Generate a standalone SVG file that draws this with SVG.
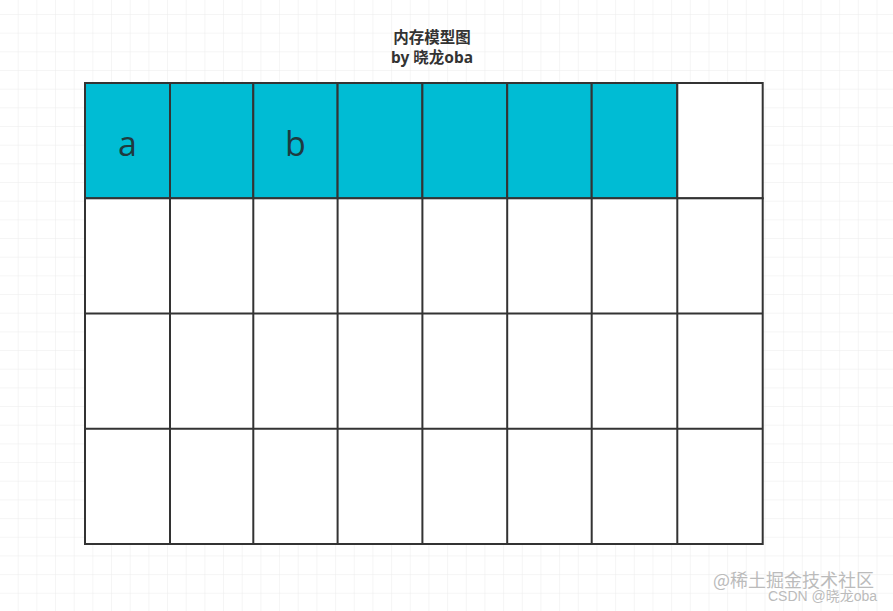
<svg xmlns="http://www.w3.org/2000/svg" width="893" height="611" viewBox="0 0 893 611">
<defs>
<pattern id="bg" x="0" y="-3.7" width="18.67" height="18.67" patternUnits="userSpaceOnUse">
<path d="M18.67 0V18.67M0 18.67H18.67" fill="none" stroke="#ebebeb" stroke-width="1"/>
</pattern>
</defs>
<style>
.c{stroke:#333;stroke-width:2;fill:#fff}
.f{fill:#00bcd4}
.t{font-family:"Open Sans","Noto Sans",sans-serif;font-size:34px;fill:#1f3a3f;text-anchor:middle}
.h{font-family:"Noto Sans","Noto Sans CJK SC",sans-serif;font-weight:bold;font-size:15.5px;fill:#333;text-anchor:middle}
.w{font-family:"Noto Sans CJK SC",sans-serif;fill:#bbb}
</style>
<rect width="893" height="611" fill="#fff"/>
<rect width="893" height="611" fill="url(#bg)"/>
<g id="title">
<text class="h" x="432" y="43">内存模型图</text>
<text class="h" x="432" y="63">by 晓龙oba</text>
</g>
<g id="row0">
<rect id="c00" class="c f" x="85" y="83" width="85" height="115.3"/>
<rect id="c01" class="c f" x="170" y="83" width="83.3" height="115.3"/>
<rect id="c02" class="c f" x="253.3" y="83" width="84.3" height="115.3"/>
<rect id="c03" class="c f" x="337.6" y="83" width="84.8" height="115.3"/>
<rect id="c04" class="c f" x="422.4" y="83" width="84.8" height="115.3"/>
<rect id="c05" class="c f" x="507.2" y="83" width="84.5" height="115.3"/>
<rect id="c06" class="c f" x="591.7" y="83" width="85.6" height="115.3"/>
<rect id="c07" class="c" x="677.3" y="83" width="85.4" height="115.3"/>
<text class="t" x="127.5" y="156">a</text>
<text class="t" x="295.5" y="156">b</text>
</g>
<g id="rows" fill="none" stroke="#333" stroke-width="2">
<rect x="85" y="198.3" width="677.7" height="345.7" fill="#fff"/>
<path d="M85 313.5H762.7M85 428.8H762.7M170 198.3V544M253.3 198.3V544M337.6 198.3V544M422.4 198.3V544M507.2 198.3V544M591.7 198.3V544M677.3 198.3V544"/>
</g>
<g id="watermark">
<text class="w" x="713" y="587" font-size="18">@稀土掘金技术社区</text>
<text class="w" x="768" y="601" font-size="14" fill="#aaa" style="font-family:'Liberation Sans','Noto Sans CJK SC',sans-serif">CSDN @晓龙oba</text>
</g>
</svg>
